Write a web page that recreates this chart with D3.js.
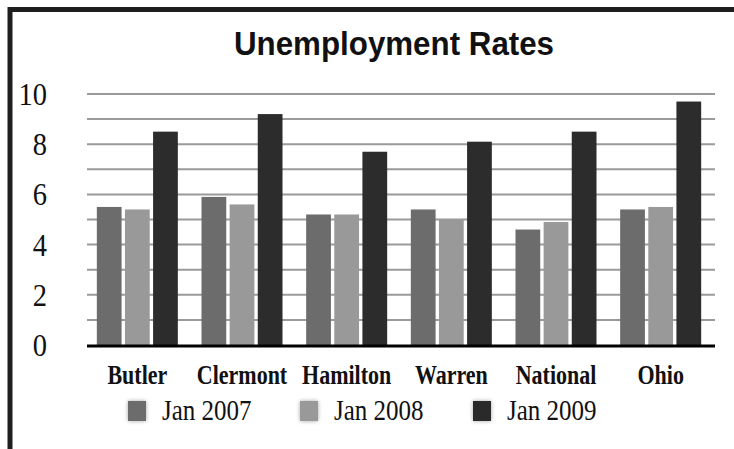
<!DOCTYPE html>
<html>
<head>
<meta charset="utf-8">
<script src="https://cdn.jsdelivr.net/npm/d3@7"></script>
<style>
  html, body { margin: 0; padding: 0; background: #fff; }
  svg { display: block; }
</style>
</head>
<body>
<svg id="chart" width="734" height="449"></svg>
<script>
const categories = ["Butler", "Clermont", "Hamilton", "Warren", "National", "Ohio"];
const seriesNames = ["Jan 2007", "Jan 2008", "Jan 2009"];
const jan2007 = [5.5, 5.9, 5.2, 5.4, 4.6, 5.4];
const jan2008 = [5.4, 5.6, 5.2, 5.0, 4.9, 5.5];
const jan2009 = [8.5, 9.2, 7.7, 8.1, 8.5, 9.7];
const yTickLabels = [0, 2, 4, 6, 8, 10];
const gridValues = [1, 2, 3, 4, 5, 6, 7, 8, 9, 10];
const seriesColors = ["#6c6c6c", "#999999", "#2c2c2c"];

const seriesValues = [jan2007, jan2008, jan2009];
const svg = d3.select("#chart");

// Frame
svg.append("rect").attr("x", 0).attr("y", 0).attr("width", 734).attr("height", 449).attr("fill", "#fff");
svg.append("line").attr("x1", 10).attr("x2", 10).attr("y1", 7).attr("y2", 449)
  .attr("stroke", "#1e1e1e").attr("stroke-width", 5);
svg.append("line").attr("x1", 8).attr("x2", 734).attr("y1", 9.5).attr("y2", 9.5)
  .attr("stroke", "#1e1e1e").attr("stroke-width", 5);

const x0 = d3.scaleBand().domain(categories).range([85, 713]).paddingInner(0.226).paddingOuter(0.113);
const x1 = d3.scaleBand().domain(seriesNames).range([0, x0.bandwidth()]).paddingInner(0.12);
const y = d3.scaleLinear().domain([0, 10]).range([345, 94]);

// Title
svg.append("text").attr("transform", "translate(394,55) scale(1.01,1.08)").attr("text-anchor", "middle")
  .attr("font-family", "Liberation Sans, Arial, sans-serif").attr("font-weight", "bold")
  .attr("font-size", 31).attr("fill", "#111").text("Unemployment Rates");

// Grid lines
svg.append("g").selectAll("line").data(gridValues).join("line")
  .attr("x1", 87).attr("x2", 715)
  .attr("y1", d => y(d)).attr("y2", d => y(d))
  .attr("stroke", "#9a9a9a").attr("stroke-width", 2);

// Y labels
svg.append("g").selectAll("text").data(yTickLabels).join("text")
  .attr("transform", d => `translate(47,${y(d)}) scale(0.92,1.05)`)
  .attr("dy", "0.34em").attr("text-anchor", "end")
  .attr("font-family", "Liberation Serif, Times New Roman, serif").attr("font-size", 31)
  .attr("fill", "#111").text(d => d);

// Bars
const groups = svg.append("g").selectAll("g").data(categories).join("g")
  .attr("transform", d => `translate(${x0(d)},0)`);
groups.selectAll("rect").data((c, i) => seriesNames.map((s, j) => ({ s, j, v: seriesValues[j][i] })))
  .join("rect")
  .attr("x", d => x1(d.s))
  .attr("width", x1.bandwidth())
  .attr("y", d => y(d.v))
  .attr("height", d => y(0) - y(d.v))
  .attr("fill", d => seriesColors[d.j]);

// Baseline
svg.append("line").attr("x1", 87).attr("x2", 715).attr("y1", y(0) + 1).attr("y2", y(0) + 1)
  .attr("stroke", "#000").attr("stroke-width", 3);

// Category labels
svg.append("g").selectAll("text").data(categories).join("text")
  .attr("transform", d => `translate(${x0(d) + x0.bandwidth() / 2},384) scale(1,1.25)`)
  .attr("text-anchor", "middle")
  .attr("font-family", "Liberation Serif, Times New Roman, serif").attr("font-weight", "bold")
  .attr("font-size", 22).attr("fill", "#111").text(d => d);

// Legend
const defs = svg.append("defs");
const f = defs.append("filter").attr("id", "soft").attr("x", "-50%").attr("y", "-50%").attr("width", "200%").attr("height", "200%");
f.append("feGaussianBlur").attr("in", "SourceAlpha").attr("stdDeviation", 2).attr("result", "b");
f.append("feComponentTransfer").attr("in", "b").attr("result", "b2")
  .append("feFuncA").attr("type", "linear").attr("slope", 0.35);
const fm = f.append("feMerge");
fm.append("feMergeNode").attr("in", "b2");
fm.append("feMergeNode").attr("in", "SourceGraphic");

const legendX = [128, 300, 473];
const legend = svg.append("g").selectAll("g").data(seriesNames).join("g")
  .attr("transform", (d, i) => `translate(${legendX[i]},401)`);
legend.append("rect").attr("width", 18).attr("height", 20)
  .attr("fill", (d, i) => seriesColors[i]).attr("filter", "url(#soft)");
legend.append("text").attr("transform", "translate(34,19) scale(1,1.2)")
  .attr("font-family", "Liberation Serif, Times New Roman, serif").attr("font-size", 25)
  .attr("fill", "#111").text(d => d);
</script>
</body>
</html>
